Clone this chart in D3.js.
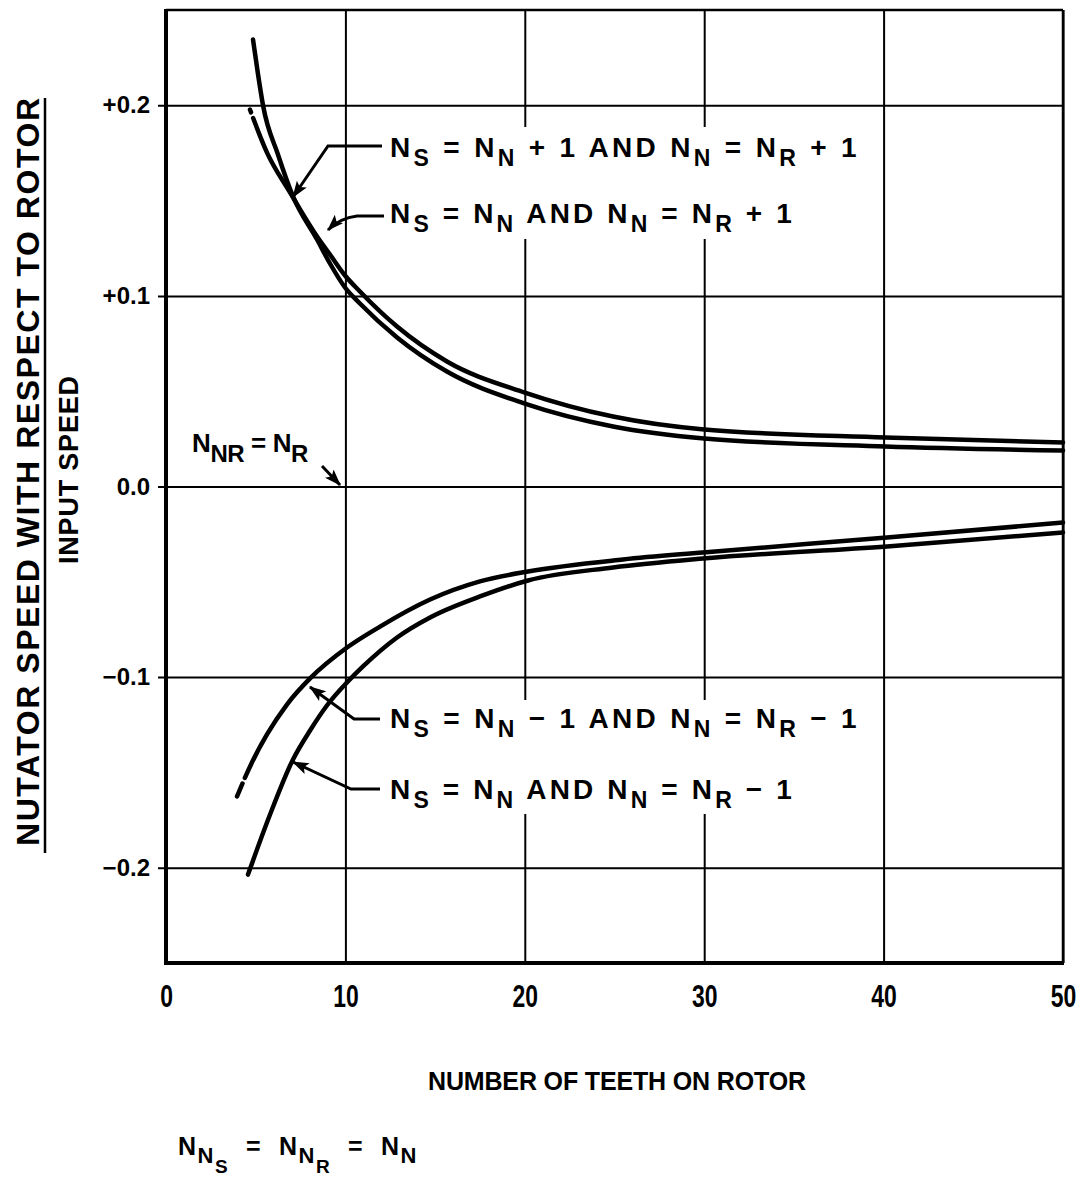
<!DOCTYPE html>
<html lang="en">
<head>
<meta charset="UTF-8">
<title>Nutator speed vs number of teeth</title>
<script src="https://cdn.jsdelivr.net/npm/d3@7"></script>
<style>
  body { margin: 0; background: #fff; }
  text { font-family: "Liberation Sans", Arial, sans-serif; font-weight: bold; fill: #000; white-space: pre; }
</style>
</head>
<body>
<svg id="chart" width="1088" height="1180"></svg>
<script>
// values (x = number of teeth on rotor, y = speed ratio)
// NS = NN + 1 and NN = NR + 1
const teethA = [4.85, 5.13, 5.41, 6.24, 7.08, 8.42, 9.14, 9.98, 10.81, 12.88, 15.66, 20.0, 24.92, 30.0, 40.08, 50];
const speedA = [0.2345, 0.2162, 0.1999, 0.1742, 0.1522, 0.1296, 0.117, 0.1044, 0.096, 0.0782, 0.0603, 0.0435, 0.0315, 0.0252, 0.021, 0.0189];
// NS = NN and NN = NR + 1
const teethB = [4.68, 5.63, 6.91, 8.42, 9.14, 9.98, 10.81, 12.88, 15.66, 20.0, 24.92, 30.0, 40.08, 50];
const speedB = [0.1978, 0.1752, 0.1543, 0.1312, 0.1217, 0.1107, 0.1023, 0.0839, 0.0656, 0.0493, 0.0367, 0.0299, 0.0257, 0.0231];
// NS = NN - 1 and NN = NR - 1
const teethC = [3.96, 4.79, 5.63, 6.74, 8.03, 10.09, 11.93, 14.72, 17.5, 20.18, 25.47, 29.93, 40.19, 50];
const speedC = [-0.1626, -0.1448, -0.1301, -0.1144, -0.1007, -0.0845, -0.0735, -0.0593, -0.0498, -0.0446, -0.0383, -0.0346, -0.0268, -0.0189];
// NS = NN and NN = NR - 1
const teethD = [4.57, 5.8, 7.08, 8.03, 8.97, 10.14, 10.98, 12.88, 14.72, 17.5, 20.18, 24.92, 29.93, 40.19, 50];
const speedD = [-0.2036, -0.1721, -0.1432, -0.128, -0.1149, -0.1023, -0.0944, -0.0792, -0.0687, -0.0577, -0.0493, -0.0425, -0.0378, -0.0315, -0.0241];

const xTicks = [0, 10, 20, 30, 40, 50];
const yTicks = [-0.2, -0.1, 0, 0.1, 0.2];
const yTickLabels = ["\u22120.2", "\u22120.1", "0.0", "+0.1", "+0.2"];

const svg = d3.select("#chart");
const pL = 166, pR = 1063, pT = 10, pB = 963;

const x = d3.scaleLinear().domain([0, 50]).range([pL, pR]);
const y = d3.scaleLinear().domain([-0.25, 0.25]).range([pB, pT]);

// grid via axes
const gx = svg.append("g")
    .attr("transform", `translate(0,${pB})`)
    .call(d3.axisBottom(x).tickValues(xTicks).tickSize(-(pB - pT)).tickPadding(22).tickFormat(d3.format("d")));
gx.select(".domain").remove();
gx.selectAll(".tick line").attr("stroke", "#000").attr("stroke-width", 2);
gx.selectAll(".tick text")
    .attr("font-family", null).attr("font-size", null)
    .style("font-size", "31px")
    .attr("transform", "scale(0.74,1)");

const gy = svg.append("g")
    .attr("transform", `translate(${pL},0)`)
    .call(d3.axisLeft(y).tickValues(yTicks).tickSize(-(pR - pL)).tickPadding(16)
        .tickFormat((d, i) => yTickLabels[i]));
gy.select(".domain").remove();
gy.selectAll(".tick line").attr("stroke", "#000").attr("stroke-width", 2).attr("x1", -8);
gy.selectAll(".tick text").attr("font-family", null).attr("font-size", null).style("font-size", "24px");

// frame
const frame = svg.append("g").attr("stroke", "#000");
frame.append("line").attr("x1", pL).attr("x2", pL).attr("y1", pT - 1).attr("y2", pB + 2).attr("stroke-width", 4);
frame.append("line").attr("x1", pL - 2).attr("x2", pR + 1).attr("y1", pB).attr("y2", pB).attr("stroke-width", 4);
frame.append("line").attr("x1", pL).attr("x2", pR).attr("y1", pT).attr("y2", pT).attr("stroke-width", 2.5);
frame.append("line").attr("x1", pR).attr("x2", pR).attr("y1", pT).attr("y2", pB).attr("stroke-width", 2.5);

// white boxes behind the curve labels (they break the grid)
svg.append("rect").attr("x", 384).attr("y", 127).attr("width", 490).attr("height", 112).attr("fill", "#fff");
svg.append("rect").attr("x", 384).attr("y", 700).attr("width", 490).attr("height", 114).attr("fill", "#fff");

// curves
const line = d3.line().x(d => x(d[0])).y(d => y(d[1])).curve(d3.curveMonotoneX);
const curves = [
  {t: teethA, s: speedA, dash: null},
  {t: teethB, s: speedB, dash: "3,6,4000"},
  {t: teethC, s: speedC, dash: "14,6,4000"},
  {t: teethD, s: speedD, dash: null}
];
svg.append("g").selectAll("path").data(curves).join("path")
    .attr("d", c => line(c.t.map((v, i) => [v, c.s[i]])))
    .attr("fill", "none").attr("stroke", "#000").attr("stroke-width", 4.5)
    .attr("stroke-linecap", "round")
    .attr("stroke-dasharray", c => c.dash);

// arrowhead
svg.append("defs").append("marker")
    .attr("id", "head").attr("viewBox", "0 -5 14 10").attr("refX", 13).attr("refY", 0)
    .attr("markerWidth", 17).attr("markerHeight", 12).attr("markerUnits", "userSpaceOnUse")
    .attr("orient", "auto")
  .append("path").attr("d", "M0,-5L14,0L0,5L3,0Z").attr("fill", "#000");

const leaders = [
  "M382,146 L328,146 L293,197",
  "M384,216 L357,216 Q340,218 328,230",
  "M380,719 L354,719 L310,687",
  "M380,789 L351,789 L293,762",
  "M322,466 L340,485"
];
svg.append("g").selectAll("path").data(leaders).join("path")
    .attr("d", d => d).attr("fill", "none").attr("stroke", "#000").attr("stroke-width", 3)
    .attr("marker-end", "url(#head)");

// labels with subscripts: parts = [text, level]
function richLabel(x0, yBase, parts, width, sizes, shifts) {
  const t = svg.append("text").attr("x", x0).attr("y", yBase).style("font-size", sizes[0] + "px");
  let level = 0;
  parts.forEach(([s, lv]) => {
    const sp = t.append("tspan").text(s).style("font-size", sizes[lv] + "px");
    let dy = 0;
    if (lv > level) for (let k = level; k < lv; k++) dy += shifts[k];
    if (lv < level) for (let k = lv; k < level; k++) dy -= shifts[k];
    if (dy) sp.attr("dy", dy);
    level = lv;
  });
  const nat = t.node().getComputedTextLength();
  const n = t.text().length;
  t.style("letter-spacing", ((width - nat) / n) + "px");
  return t;
}

const main = [28, 23], sh = [9];
richLabel(390, 157, [["N",0],["S",1],[" = ",0],["N",0],["N",1],[" + 1 AND ",0],["N",0],["N",1],[" = ",0],["N",0],["R",1],[" + 1",0]], 470, main, sh);
richLabel(390, 223, [["N",0],["S",1],[" = ",0],["N",0],["N",1],[" AND ",0],["N",0],["N",1],[" = ",0],["N",0],["R",1],[" + 1",0]], 405, main, sh);
richLabel(390, 728, [["N",0],["S",1],[" = ",0],["N",0],["N",1],[" \u2212 1 AND ",0],["N",0],["N",1],[" = ",0],["N",0],["R",1],[" \u2212 1",0]], 470, main, sh);
richLabel(390, 799, [["N",0],["S",1],[" = ",0],["N",0],["N",1],[" AND ",0],["N",0],["N",1],[" = ",0],["N",0],["R",1],[" \u2212 1",0]], 405, main, sh);

richLabel(192, 452, [["N",0],["NR",1],[" = ",0],["N",0],["R",1]], 116, [26, 24], [10]);

richLabel(178, 1155, [["N",0],["N",1],["S",2],["  =  ",0],["N",0],["N",1],["R",2],["  =  ",0],["N",0],["N",1]], 240, [25, 22, 19], [8, 10]);

// axis titles
svg.append("text").attr("x", 617).attr("y", 1090).attr("text-anchor", "middle")
    .attr("textLength", 378).style("font-size", "25px").text("NUMBER OF TEETH ON ROTOR");

svg.append("text").attr("transform", "translate(39,472) rotate(-90)").attr("text-anchor", "middle")
    .attr("textLength", 748).style("font-size", "32px").text("NUTATOR SPEED WITH RESPECT TO ROTOR");
svg.append("line").attr("x1", 45).attr("x2", 45).attr("y1", 98).attr("y2", 853)
    .attr("stroke", "#000").attr("stroke-width", 2.5);
svg.append("text").attr("transform", "translate(78,470) rotate(-90)").attr("text-anchor", "middle")
    .attr("textLength", 188).style("font-size", "27px").text("INPUT SPEED");
</script>
</body>
</html>
